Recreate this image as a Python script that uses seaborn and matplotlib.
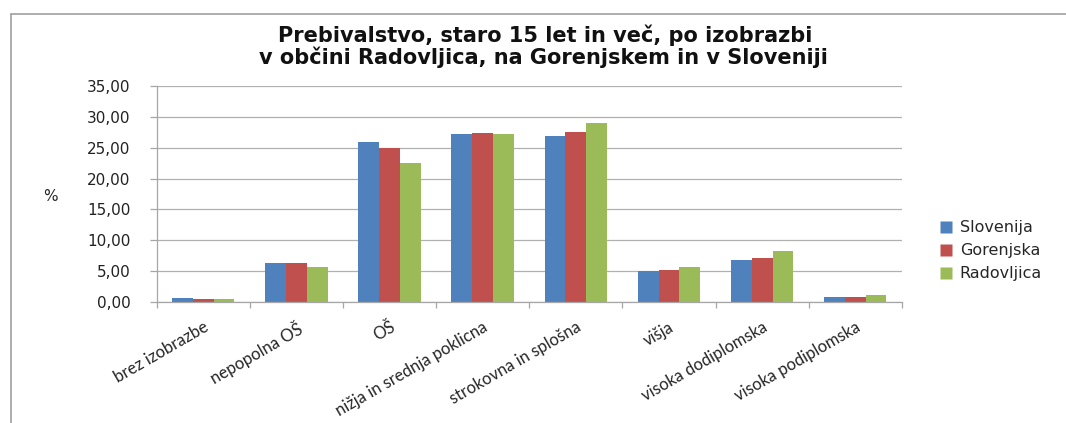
import matplotlib
matplotlib.use("Agg")
import matplotlib.pyplot as plt
import seaborn as sns
import pandas as pd
from matplotlib.ticker import FuncFormatter, FixedLocator
from matplotlib.lines import Line2D

categories = ["brez izobrazbe", "nepopolna OŠ", "OŠ", "nižja in srednja poklicna",
              "strokovna in splošna", "višja", "visoka dodiplomska", "visoka podiplomska"]
series = ["Slovenija", "Gorenjska", "Radovljica"]
slovenija = [0.65, 6.26, 25.94, 27.13, 26.81, 4.97, 6.80, 0.86]
gorenjska = [0.55, 6.26, 24.87, 27.35, 27.56, 5.18, 7.07, 0.86]
radovljica = [0.50, 5.66, 22.44, 27.13, 28.96, 5.61, 8.20, 1.13]
colors = ["#4F81BD", "#C0504D", "#9BBB59"]
title_lines = ["Prebivalstvo, staro 15 let in več, po izobrazbi",
               "v občini Radovljica, na Gorenjskem in v Sloveniji"]

rows = []
for name, vals in zip(series, [slovenija, gorenjska, radovljica]):
    for c, v in zip(categories, vals):
        rows.append({"kategorija": c, "regija": name, "vrednost": v})
df = pd.DataFrame(rows)

sns.set_style("white")
plt.rcParams["font.family"] = ["DejaVu Sans"]

fig = plt.figure(figsize=(10.66, 4.23), dpi=100)
ax = fig.add_axes([0.147, 0.286, 0.699, 0.511])

sns.barplot(data=df, x="kategorija", y="vrednost", hue="regija", order=categories,
            hue_order=series, palette=colors, width=0.67, gap=0, saturation=1,
            ax=ax, legend=False, edgecolor="none")

ax.set_ylim(0, 35)
ax.set_xlim(-0.5, len(categories) - 0.5)
ax.set_yticks([0, 5, 10, 15, 20, 25, 30, 35])
ax.yaxis.set_major_formatter(FuncFormatter(lambda v, p: f"{v:.2f}".replace(".", ",")))
ax.tick_params(axis="y", labelsize=11, colors="#A6A6A6", length=5, direction="out",
               left=True, width=0.9, pad=14)
for lab in ax.get_yticklabels():
    lab.set_color("#222222")
ax.yaxis.grid(True, color="#B0B0B0", linewidth=0.9)
ax.set_axisbelow(True)

ax.set_xlabel("")
ax.set_ylabel("%", rotation=0, fontsize=11, labelpad=0, va="center", ha="center")
ax.yaxis.set_label_coords(-0.142, 0.49)
ax.set_xticks(range(len(categories)))
ax.set_xticklabels(categories, rotation=30, ha="right", rotation_mode="anchor",
                   fontsize=12, family="Lato")
ax.tick_params(axis="x", which="major", length=0, pad=12)
ax.xaxis.set_minor_locator(FixedLocator([i - 0.5 for i in range(len(categories) + 1)]))
ax.tick_params(axis="x", which="minor", length=4, color="#A6A6A6", width=0.9, bottom=True)

for s in ["top", "right"]:
    ax.spines[s].set_visible(False)
for s in ["left", "bottom"]:
    ax.spines[s].set_color("#A6A6A6")
    ax.spines[s].set_linewidth(0.9)

handles = [Line2D([0], [0], marker="s", linestyle="none", markersize=8,
                  markerfacecolor=c, markeredgecolor="none") for c in colors]
fig.legend(handles, series, loc="upper left", bbox_to_anchor=(0.874, 0.494),
           frameon=False, fontsize=11.5, handletextpad=0.35, labelspacing=0.5,
           handlelength=1.0, borderaxespad=0)

fig.text(0.511, 1 - 42/423, title_lines[0], ha="center", va="baseline",
         fontsize=15, fontweight="bold", color="#111111")
fig.text(0.510, 1 - 64/423, title_lines[1], ha="center", va="baseline",
         fontsize=15, fontweight="bold", color="#111111")

# outer frame (top and left)
fig.add_artist(Line2D([11/1066, 1.0], [1 - 14/423, 1 - 14/423], transform=fig.transFigure,
                      color="#A0A0A0", linewidth=1.2))
fig.add_artist(Line2D([11/1066, 11/1066], [0, 1 - 14/423], transform=fig.transFigure,
                      color="#A0A0A0", linewidth=1.2))

fig.savefig("out.png", dpi=100, facecolor="white")
